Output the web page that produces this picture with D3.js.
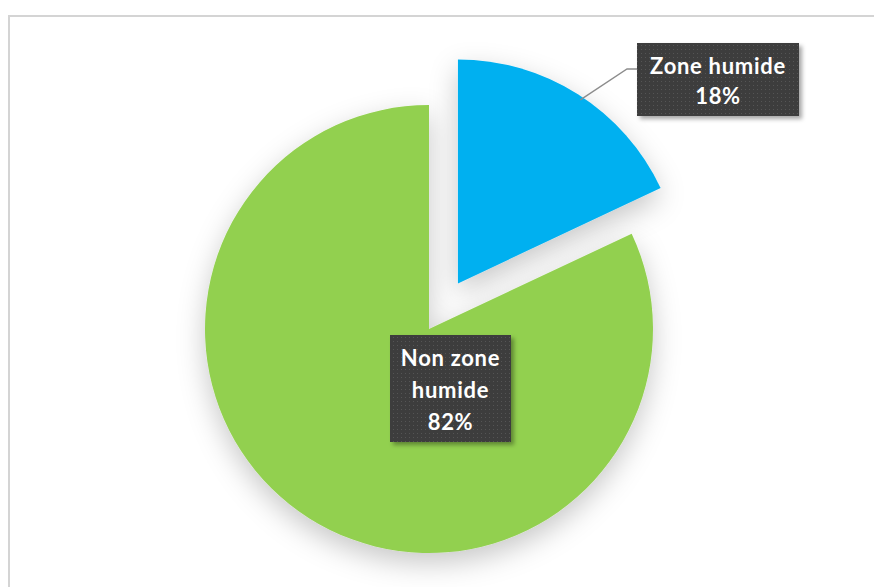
<!DOCTYPE html>
<html><head><meta charset="utf-8">
<script src="https://cdn.jsdelivr.net/npm/d3@7"></script>
<style>body{margin:0;background:#fff}svg{display:block}</style>
</head><body>
<script>
const categories = ["Zone humide", "Non zone humide"];
const values = [18, 82];
const colors = ["#00B0F0", "#92D050"];
const labelLines = [["Zone humide", "18%"], ["Non zone", "humide", "82%"]];

const W = 874, H = 587;
const svg = d3.select("body").append("svg").attr("width", W).attr("height", H);
const defs = svg.append("defs");
const f = defs.append("filter").attr("id", "pieShadow").attr("x", "-30%").attr("y", "-30%").attr("width", "160%").attr("height", "170%");
f.append("feDropShadow").attr("dx", 0).attr("dy", 10).attr("stdDeviation", 14).attr("flood-color", "#000").attr("flood-opacity", 0.22);
const f2 = defs.append("filter").attr("id", "boxShadow").attr("x", "-20%").attr("y", "-20%").attr("width", "150%").attr("height", "150%");
f2.append("feDropShadow").attr("dx", 3).attr("dy", 3).attr("stdDeviation", 2).attr("flood-color", "#000").attr("flood-opacity", 0.35);
const pat = defs.append("pattern").attr("id", "dots").attr("width", 4).attr("height", 4).attr("patternUnits", "userSpaceOnUse");
pat.append("rect").attr("width", 4).attr("height", 4).attr("fill", "#3d3d3d");
pat.append("rect").attr("x", 1).attr("y", 1).attr("width", 1).attr("height", 1).attr("fill", "#555");

// frame
svg.append("path").attr("d", `M9,${H} V16 H${W}`).attr("fill", "none").attr("stroke", "#d4d4d4").attr("stroke-width", 2);

const cx = 429, cy = 329, R = 224, explode = 54;
const pie = d3.pie().sort(null).value(d => d)(values);
const arc = d3.arc().innerRadius(0).outerRadius(R);
const g = svg.append("g").attr("transform", `translate(${cx},${cy})`);
const offs = pie.map((p, i) => {
  if (i !== 0) return [0, 0];
  const a = (p.startAngle + p.endAngle) / 2;
  return [explode * Math.sin(a), -explode * Math.cos(a)];
});
g.selectAll("path.slice").data(pie).enter().append("path").attr("class", "slice")
  .attr("d", arc).attr("fill", (d, i) => colors[i])
  .attr("transform", (d, i) => `translate(${offs[i][0]},${offs[i][1]})`)
  .attr("filter", "url(#pieShadow)");

// leader line for blue label
const p0 = pie[0];
const la = p0.startAngle + (p0.endAngle - p0.startAngle) * 0.52;
const sx = cx + offs[0][0] + R * Math.sin(la) * 0.985, sy = cy + offs[0][1] - R * Math.cos(la) * 0.985;
svg.append("polyline").attr("points", `${sx},${sy} 627,69 637,69`).attr("fill", "none").attr("stroke", "#8c8c8c").attr("stroke-width", 1.3);

function labelBox(x, y, w, h, lines, lh, first) {
  const gg = svg.append("g");
  gg.append("rect").attr("x", x).attr("y", y).attr("width", w).attr("height", h).attr("fill", "url(#dots)").attr("filter", "url(#boxShadow)");
  gg.selectAll("text").data(lines).enter().append("text")
    .attr("x", x + w / 2).attr("y", (d, i) => first + i * lh)
    .attr("text-anchor", "middle").attr("fill", "#fff")
    .attr("font-family", "Lato, 'Open Sans', sans-serif").attr("font-weight", "bold").attr("font-size", 22)
    .attr("letter-spacing", 0.7)
    .text(d => d);
}
labelBox(637, 43, 162, 73, labelLines[0], 30, 74);
labelBox(390, 335, 121, 107, labelLines[1], 32, 366);
</script>
</body></html>
